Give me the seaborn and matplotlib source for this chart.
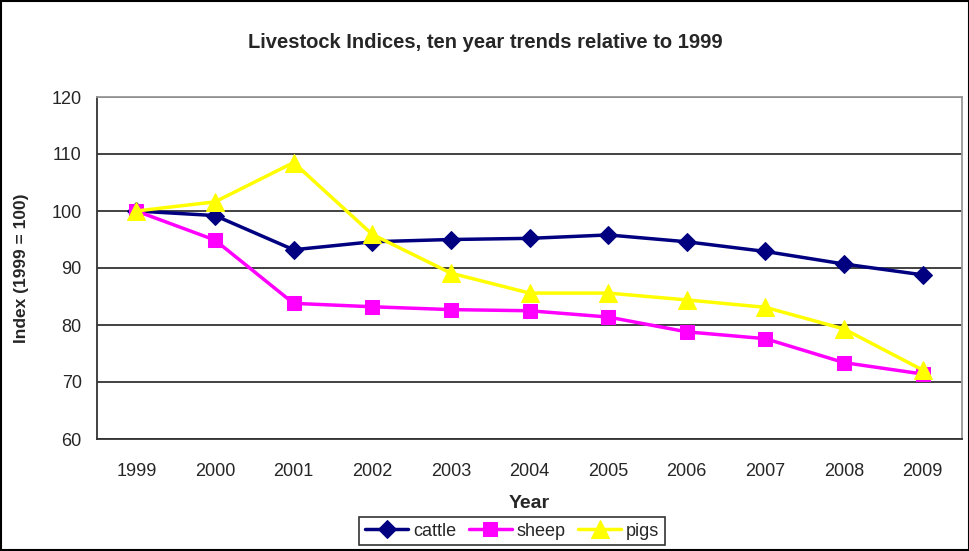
import matplotlib
matplotlib.use("Agg")
import matplotlib.pyplot as plt
import seaborn as sns
import pandas as pd
import numpy as np
from matplotlib.patches import Rectangle

years = [1999, 2000, 2001, 2002, 2003, 2004, 2005, 2006, 2007, 2008, 2009]
cattle = [100, 99.2, 93.2, 94.6, 95.0, 95.2, 95.8, 94.6, 92.9, 90.7, 88.8]
sheep = [100, 94.9, 83.8, 83.2, 82.7, 82.5, 81.4, 78.8, 77.6, 73.4, 71.4]
pigs = [100, 101.6, 108.5, 95.9, 89.1, 85.6, 85.6, 84.4, 83.1, 79.3, 72.1]
series_names = ["cattle", "sheep", "pigs"]
y_ticks = [60, 70, 80, 90, 100, 110, 120]

df = pd.DataFrame({
    "Year": years * 3,
    "Index": cattle + sheep + pigs,
    "series": [s for s in series_names for _ in years],
})

sns.set_style("white")
plt.rcParams["font.family"] = ["Liberation Sans", "DejaVu Sans"]

fig = plt.figure(figsize=(9.7, 5.51), dpi=100)
ax = fig.add_axes([97 / 970, 1 - 439 / 551, (962 - 97) / 970, (439 - 97) / 551])

palette = {"cattle": "#000080", "sheep": "#FF00FF", "pigs": "#FFFF00"}
markers = {"cattle": "D", "sheep": "s", "pigs": "^"}
sizes = {"cattle": 9.5, "sheep": 10.5, "pigs": 12.5}

for name in series_names:
    sub = df[df["series"] == name]
    sns.lineplot(data=sub, x="Year", y="Index", color=palette[name],
                 marker=markers[name], markersize=sizes[name],
                 markeredgecolor=palette[name], linewidth=2.5,
                 label=name, ax=ax)

ax.set_xlim(years[0] - 0.5, years[-1] + 0.5)
ax.set_ylim(60, 120)
ax.set_yticks(y_ticks)
ax.set_xticks(years)
ax.set_xticks(np.arange(years[0] - 0.5, years[-1] + 1.0, 1.0), minor=True)
ax.tick_params(axis="x", which="major", length=0, pad=17, labelsize=13)
ax.tick_params(axis="x", which="minor", length=5, width=1, color="#333333", direction="out")
ax.tick_params(axis="y", length=5, width=1, color="#333333", direction="out", labelsize=13, pad=6)
ax.yaxis.grid(True, color="#333333", linewidth=1.3)
ax.set_axisbelow(True)
for side in ["left", "bottom"]:
    ax.spines[side].set_color("#333333")
    ax.spines[side].set_linewidth(1.3)
for side in ["top", "right"]:
    ax.spines[side].set_color("#999999")
    ax.spines[side].set_linewidth(1.3)

ax.set_xlabel("Year", fontsize=14, fontweight="bold", labelpad=11)
ax.set_ylabel("Index (1999 = 100)", fontsize=12.5, fontweight="bold", labelpad=16)
fig.text(0.5, 1 - 43 / 551, "Livestock Indices, ten year trends relative to 1999",
         ha="center", va="center", fontsize=14.5, fontweight="bold")

leg = ax.legend(loc="center", bbox_to_anchor=((512 - 97) / 865, (439 - 531) / 342),
                ncol=3, frameon=True, fancybox=False, fontsize=13,
                handlelength=2.4, columnspacing=0.7, handletextpad=0.25,
                borderpad=0.3, edgecolor="black")
leg.get_frame().set_linewidth(1.2)

fig.patches.append(Rectangle((0.001, 0.001), 0.998, 0.998, transform=fig.transFigure,
                             fill=False, edgecolor="black", linewidth=1.5))

fig.savefig("out.png", dpi=100)
